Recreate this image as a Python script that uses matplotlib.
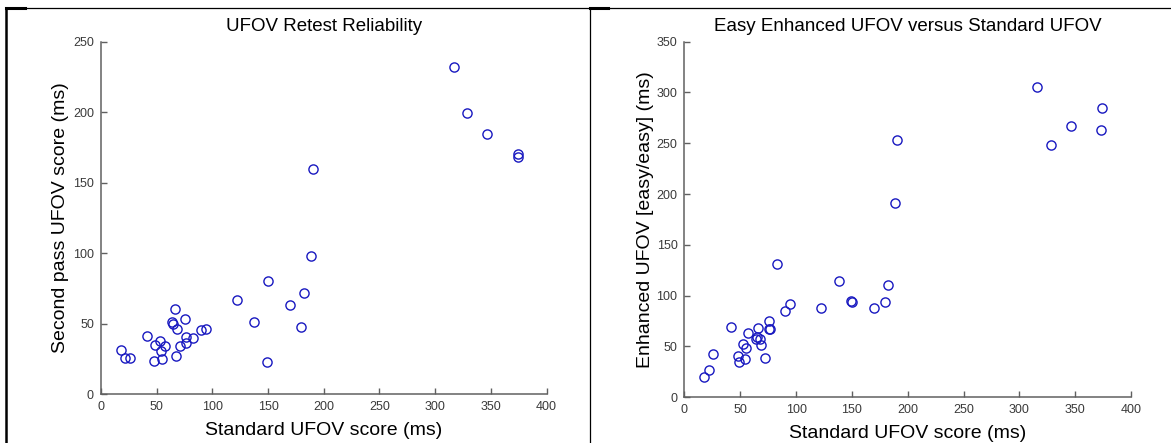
import matplotlib
matplotlib.use("Agg")
import matplotlib.pyplot as plt
from matplotlib.lines import Line2D

# retest: standard UFOV score vs second pass score (ms)
std_retest = [18.1, 21.8, 26.2, 41.1, 48.2, 47.4, 53.2, 53.7, 57.2, 55.0,
              66.2, 64.0, 64.4, 68.1, 67.7, 75.4, 71.4, 76.4, 76.4, 83.0,
              89.7, 94.6, 122.1, 137.8, 149.8, 149.0, 170.0, 182.3, 179.3, 190.5,
              188.9, 316.6, 329.0, 347.0, 374.7, 374.0]
second_pass = [31.3, 26.1, 26.1, 41.3, 34.7, 23.9, 38.0, 30.4, 34.0, 25.1,
               60.5, 51.0, 49.8, 46.2, 27.3, 53.1, 34.0, 40.8, 36.5, 39.8,
               45.7, 46.3, 66.8, 51.5, 80.0, 23.1, 63.2, 72.0, 47.9, 160.0,
               98.3, 232.3, 199.7, 184.3, 170.1, 168.0]

# easy enhanced vs standard UFOV (ms)
std_enh = [17.9, 22.1, 25.7, 41.3, 47.8, 48.6, 54.2, 52.9, 55.5, 57.0,
           66.1, 64.0, 65.2, 67.6, 68.5, 71.9, 76.1, 75.9, 76.5, 90.2,
           94.7, 82.9, 122.5, 138.3, 149.3, 150.0, 170.2, 179.8, 182.3, 190.5,
           188.5, 316.0, 328.6, 346.2, 372.8, 373.8]
enhanced = [19.5, 26.7, 43.0, 68.7, 40.4, 34.8, 37.8, 52.8, 48.5, 63.5,
            68.5, 57.4, 59.0, 57.0, 51.7, 38.7, 74.8, 67.5, 67.2, 84.9,
            92.0, 130.8, 87.9, 114.5, 95.0, 93.9, 87.9, 93.9, 110.3, 253.6,
            191.2, 305.7, 248.6, 267.0, 262.7, 284.4]

x_ticks = [0, 50, 100, 150, 200, 250, 300, 350, 400]
y_ticks_left = [0, 50, 100, 150, 200, 250]
y_ticks_right = [0, 50, 100, 150, 200, 250, 300, 350]

plt.rcParams['font.family'] = ['Liberation Sans', 'DejaVu Sans']

fig = plt.figure(figsize=(11.71, 4.43), dpi=100)
fig.patch.set_facecolor('white')

ax1 = fig.add_axes([0.0862, 0.1099, 0.3805, 0.7959])
ax2 = fig.add_axes([0.5845, 0.1032, 0.3813, 0.8027])


def style_axes(ax, xs, ys, yticks, title, ylabel, ypad):
    ax.plot(xs, ys, linestyle='none', marker='o', markersize=6.6,
            markerfacecolor='none', markeredgecolor='#1818c0', markeredgewidth=1.0)
    ax.set_xlim(0, 400)
    ax.set_ylim(0, yticks[-1])
    ax.set_xticks(x_ticks)
    ax.set_yticks(yticks)
    for side in ['top', 'right']:
        ax.spines[side].set_visible(False)
    for side in ['left', 'bottom']:
        ax.spines[side].set_color('#606060')
        ax.spines[side].set_linewidth(1.1)
    ax.tick_params(direction='in', length=4, width=1.0, color='#606060',
                   labelsize=9, labelcolor='#3a3a3a', pad=5)
    ax.set_title(title, fontsize=13.5, pad=8)
    ax.set_xlabel('Standard UFOV score (ms)', fontsize=14, labelpad=6)
    ax.set_ylabel(ylabel, fontsize=14, labelpad=ypad)


style_axes(ax1, std_retest, second_pass, y_ticks_left,
           'UFOV Retest Reliability', 'Second pass UFOV score (ms)', 3)
style_axes(ax2, std_enh, enhanced, y_ticks_right,
           'Easy Enhanced UFOV versus Standard UFOV', 'Enhanced UFOV [easy/easy] (ms)', 1.5)

# frames around the two panels
top = 1 - 7.5 / 443
frame = [
    ([0.0048, 0.0048], [0, top], 1.8),
    ([0.0048, 0.5038], [top, top], 0.9),
    ([0.5038, 0.5038], [0, top], 0.9),
    ([0.5038, 1.0], [top, top], 0.9),
    ([0.0048, 0.0210], [top, top], 2.2),
    ([0.5038, 0.5190], [top, top], 2.2),
]
for xs, ys, lw in frame:
    fig.add_artist(Line2D(xs, ys, color='black', linewidth=lw,
                          transform=fig.transFigure))

fig.savefig('out.png', dpi=100, facecolor='white')
